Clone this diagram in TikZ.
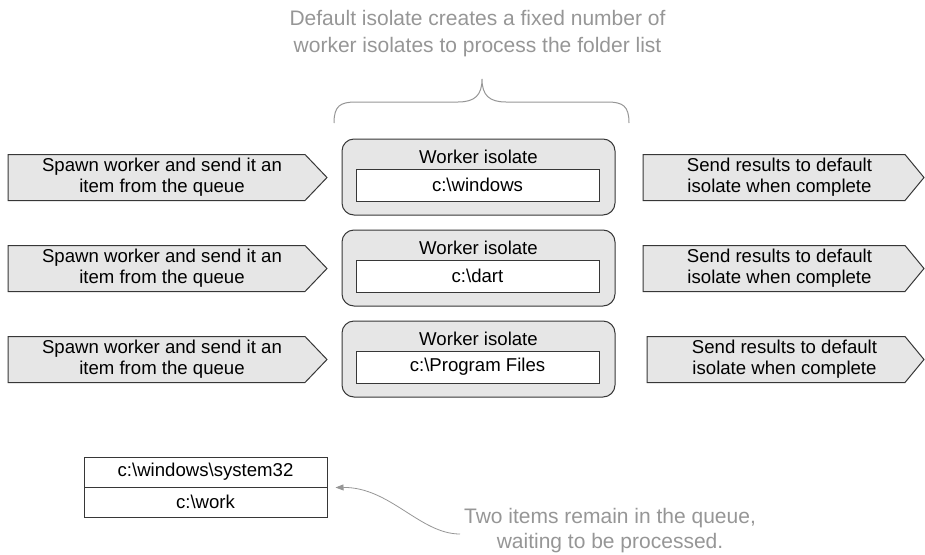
\documentclass[tikz,border=0pt]{standalone}
\usepackage{fontspec}
\setmainfont{Liberation Sans}
\usetikzlibrary{arrows.meta,backgrounds,calc}
\definecolor{boxfill}{RGB}{230,230,230}
\definecolor{edgec}{RGB}{55,55,55}
\definecolor{notec}{RGB}{150,150,150}
\newcommand\bksl{\textbackslash}
\newcommand\sigpoly[5]{%
  \begin{scope}[on background layer]
  \draw[sigstyle] ($(#1.center)+(#2,-#5)$) -- ($(#1.center)+(#3,-#5)$) -- ($(#1.center)+(#4,0)$) -- ($(#1.center)+(#3,#5)$) -- ($(#1.center)+(#2,#5)$) -- cycle;
  \end{scope}}
\begin{document}
\begin{tikzpicture}[x=1pt,y=-1pt,
  txt/.style={font=\fontsize{18.6}{21}\selectfont, align=center, inner sep=0pt, text=black},
  sigstyle/.style={draw=edgec, fill=boxfill, line width=1pt},
  worker/.style={draw=edgec, fill=boxfill, line width=1pt, rounded corners=12pt, minimum width=273pt, minimum height=76pt, inner sep=0pt},
  folder/.style={txt, draw=edgec, fill=white, line width=1pt, minimum width=243pt, minimum height=32pt},
  qitem/.style={txt, draw=edgec, fill=white, line width=1pt, minimum width=243pt, minimum height=30pt},
  note/.style={align=center, inner sep=0pt, text=notec},
  notearrow/.style={draw=notec, line width=0.8pt, -{Triangle[length=8pt,width=6pt]}}
]
\useasboundingbox (0,0) rectangle (925,554);

% top annotation and brace
\node[note, font=\fontsize{21}{27}\selectfont] (topnote) at (477.5,33.5) {Default isolate creates a fixed number of\\worker isolates to process the folder list};
\draw[draw=notec, line width=1pt] (334,123) .. controls (334,106) and (340,102) .. (356,102) -- (458,102) .. controls (475,102) and (482,95) .. (482,79) .. controls (482,95) and (489,102) .. (506,102) -- (607,102) .. controls (623,102) and (629,106) .. (629,123);

% left arrows
\node[txt] (l1) at (162,177.5) {Spawn worker and send it an\\item from the queue};
\node[txt] (l2) at (162,268.5) {Spawn worker and send it an\\item from the queue};
\node[txt] (l3) at (162,359.5) {Spawn worker and send it an\\item from the queue};
\sigpoly{l1}{-154}{143}{165}{23}
\sigpoly{l2}{-154}{143}{165}{23}
\sigpoly{l3}{-154}{143}{165}{23}

% worker isolates
\node[worker] (w1) at (478.5,177) {};
\node[txt] (t1) at (478.5,157) {Worker isolate};
\node[folder] (f1) at (477.5,185) {c:\bksl windows};

\node[worker] (w2) at (478.5,268) {};
\node[txt] (t2) at (478.5,248) {Worker isolate};
\node[folder] (f2) at (477.5,276) {c:\bksl dart};

\node[worker] (w3) at (478.5,359) {};
\node[txt] (t3) at (478.5,339) {Worker isolate};
\node[folder] (f3) at (477.5,367) {c:\bksl Program Files};

% right arrows
\node[txt] (r1) at (779.5,177.5) {Send results to default\\isolate when complete};
\node[txt] (r2) at (779.5,268.5) {Send results to default\\isolate when complete};
\node[txt] (r3) at (784.5,359.5) {Send results to default\\isolate when complete};
\sigpoly{r1}{-136.5}{125.5}{144.5}{23}
\sigpoly{r2}{-136.5}{125.5}{144.5}{23}
\sigpoly{r3}{-137.5}{120.5}{139.5}{23}

% queue
\node[qitem] (q1) at (205.5,472) {c:\bksl windows\bksl system32};
\node[qitem] (q2) at (205.5,502) {c:\bksl work};

% bottom annotation
\node[note, font=\fontsize{21}{25}\selectfont] (botnote) at (610,530.5) {Two items remain in the queue,\\waiting to be processed.};
\coordinate (s) at (460,534);
\coordinate (qe) at ($(q1.south east)+(8,0)$);
\draw[notearrow] (s) .. controls (420,534) and (390,487) .. (qe);
\end{tikzpicture}
\end{document}
